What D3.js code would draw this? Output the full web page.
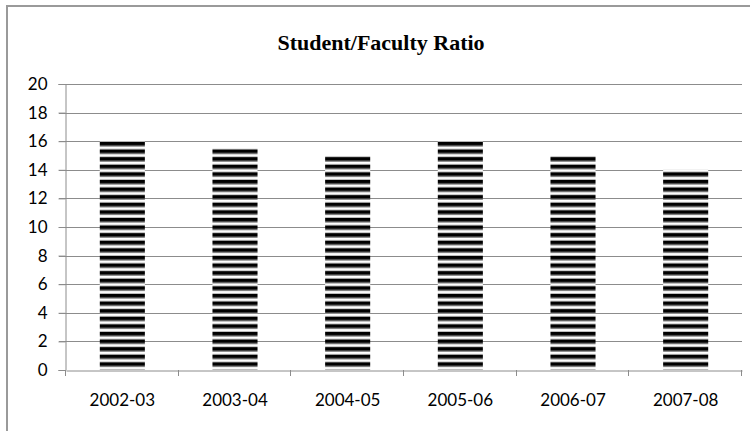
<!DOCTYPE html>
<html>
<head>
<meta charset="utf-8">
<script src="https://cdn.jsdelivr.net/npm/d3@7"></script>
<style>
  html, body { margin: 0; padding: 0; background: #fff; }
  svg { display: block; }
</style>
</head>
<body>
<svg id="chart" width="750" height="431"></svg>
<script>
// Student/Faculty ratio by academic year
const years = ["2002-03", "2003-04", "2004-05", "2005-06", "2006-07", "2007-08"];
const ratios = [16, 15.5, 15, 16, 15, 14];
const yTicks = [0, 2, 4, 6, 8, 10, 12, 14, 16, 18, 20];
const chartTitle = "Student/Faculty Ratio";

const svg = d3.select("#chart");
const plot = { left: 66, right: 742, top: 84, bottom: 370 };
const labelFont = "Lato, 'Open Sans', sans-serif";

// outer chart frame (runs off the right and bottom edges)
svg.append("rect")
  .attr("x", 7).attr("y", 6)
  .attr("width", 800).attr("height", 500)
  .attr("fill", "#fff")
  .attr("stroke", "#9a9a9a").attr("stroke-width", 2);

// horizontal stripe fill for the bars
const defs = svg.append("defs");
const pat = defs.append("pattern")
  .attr("id", "stripes")
  .attr("patternUnits", "userSpaceOnUse")
  .attr("width", 10).attr("height", 7.6)
  .attr("y", plot.bottom);
pat.append("rect").attr("width", 10).attr("height", 7.6).attr("fill", "#fff");
pat.append("rect").attr("y", 0).attr("width", 10).attr("height", 3.6).attr("fill", "#000");
pat.append("rect").attr("y", 3.6).attr("width", 10).attr("height", 1).attr("fill", "#777");
pat.append("rect").attr("y", 6.6).attr("width", 10).attr("height", 1).attr("fill", "#bbb");

const x = d3.scaleBand().domain(years).range([plot.left, plot.right]).paddingInner(0.6).paddingOuter(0.3);
const xCat = d3.scaleBand().domain(years).range([plot.left, plot.right]);
const y = d3.scaleLinear().domain([0, 20]).range([plot.bottom, plot.top]);

// gridlines with tick stubs left of the axis
svg.append("g").selectAll("line").data(yTicks.filter(t => t > 0)).join("line")
  .attr("x1", plot.left - 7).attr("x2", plot.right)
  .attr("y1", d => Math.round(y(d)) + 0.5).attr("y2", d => Math.round(y(d)) + 0.5)
  .attr("stroke", "#8c8c8c").attr("stroke-width", 1);

// bars
svg.append("g").selectAll("rect").data(years).join("rect")
  .attr("x", d => x(d))
  .attr("width", x.bandwidth())
  .attr("y", (d, i) => y(ratios[i]))
  .attr("height", (d, i) => y(0) - y(ratios[i]))
  .attr("fill", "url(#stripes)");

// y axis
const yAxis = svg.append("g")
  .attr("transform", `translate(${plot.left - 0.5},0)`)
  .call(d3.axisLeft(y).tickValues(yTicks).tickSize(7).tickPadding(11).tickFormat(d3.format("d")));
yAxis.select(".domain").attr("stroke", "#8c8c8c");
yAxis.selectAll(".tick line").attr("stroke", "#8c8c8c");
yAxis.selectAll("text")
  .attr("font-family", labelFont)
  .attr("font-size", 17).attr("fill", "#000");

// x axis
const xAxis = svg.append("g")
  .attr("transform", `translate(0,${plot.bottom + 0.5})`)
  .call(d3.axisBottom(xCat).tickSize(0).tickPadding(23));
xAxis.select(".domain").attr("stroke", "#8c8c8c");
xAxis.selectAll("text")
  .attr("font-family", labelFont)
  .attr("font-size", 17).attr("fill", "#000");
// tick marks at category boundaries
svg.append("g").selectAll("line").data(years.concat(["end"])).join("line")
  .attr("x1", (d, i) => Math.round(plot.left + i * xCat.step()) - 0.5)
  .attr("x2", (d, i) => Math.round(plot.left + i * xCat.step()) - 0.5)
  .attr("y1", plot.bottom).attr("y2", plot.bottom + 6)
  .attr("stroke", "#8c8c8c");

// title
svg.append("text")
  .attr("x", 381).attr("y", 50)
  .attr("text-anchor", "middle")
  .attr("font-family", "'Liberation Serif', 'Times New Roman', serif")
  .attr("font-weight", "bold")
  .attr("font-size", 22)
  .text(chartTitle);
</script>
</body>
</html>
